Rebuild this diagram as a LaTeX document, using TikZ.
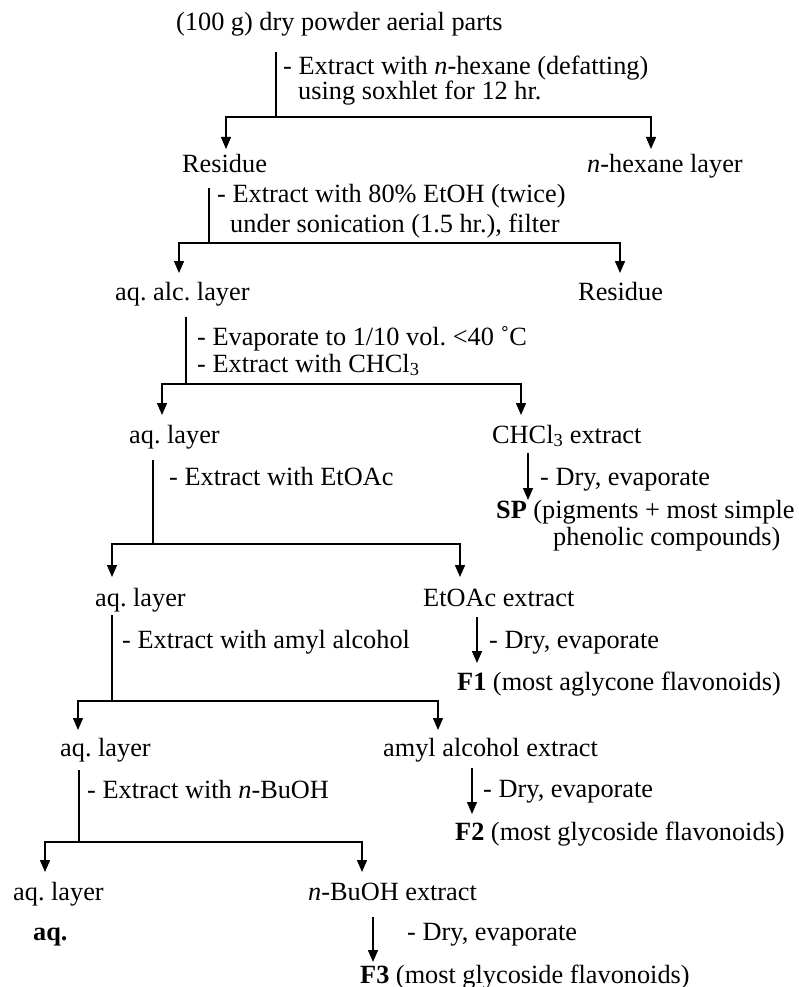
\documentclass[tikz,border=0pt]{standalone}
\usepackage{fontspec}
\setmainfont{Liberation Serif}
\usetikzlibrary{arrows.meta}
\frenchspacing

\begin{document}
\begin{tikzpicture}[x=1pt,y=-1pt,font=\fontsize{26.3}{30}\selectfont,
    draw/.append style={line width=1.4pt,black},
    txt/.style={anchor=base west,inner sep=0pt},
    arr/.style={-{Triangle[length=12pt,width=10pt]}}]
  \useasboundingbox (0,0) rectangle (798,987);
  % texts
  \node[txt] (plant) at (176,31) {(100 g) dry powder aerial parts};
  \node[txt] (hexA) at (283,75) {- Extract with \textit{n}-hexane (defatting)};
  \node[txt] (hexB) at (298,100) {using soxhlet for 12 hr.};
  \node[txt] (res1) at (182,173) {Residue};
  \node[txt] (hexl) at (587,173) {\textit{n}-hexane layer};
  \node[txt] (etA) at (217,203) {- Extract with 80\% EtOH (twice)};
  \node[txt] (etB) at (230,232) {under sonication (1.5 hr.), filter};
  \node[txt] (alc) at (115,300) {aq. alc. layer};
  \node[txt] (res2) at (578,300) {Residue};
  \node[txt] (evA) at (197,345) {- Evaporate to 1/10 vol. <40 ˚C};
  \node[txt] (evB) at (197,372) {- Extract with CHCl\textsubscript{3}};
  \node[txt] (aq1) at (129,443) {aq. layer};
  \node[txt] (chcl) at (492,443) {CHCl\textsubscript{3} extract};
  \node[txt] (dry1) at (540,485) {- Dry, evaporate};
  \node[txt] (spA) at (496,518) {\textbf{SP} (pigments + most simple};
  \node[txt] (spB) at (553,545) {phenolic compounds)};
  \node[txt] (eaA) at (169,485) {- Extract with EtOAc};
  \node[txt] (aq2) at (95,606) {aq. layer};
  \node[txt] (etoac) at (423,606) {EtOAc extract};
  \node[txt] (dry2) at (489,648) {- Dry, evaporate};
  \node[txt] (fr1) at (457,690) {\textbf{F1} (most aglycone flavonoids)};
  \node[txt] (amA) at (122,648) {- Extract with amyl alcohol};
  \node[txt] (aq3) at (60,756) {aq. layer};
  \node[txt] (amyl) at (383,756) {amyl alcohol extract};
  \node[txt] (dry3) at (483,797) {- Dry, evaporate};
  \node[txt] (fr2) at (455,840) {\textbf{F2} (most glycoside flavonoids)};
  \node[txt] (buA) at (87,798) {- Extract with \textit{n}-BuOH};
  \node[txt] (aq4) at (13,900) {aq. layer};
  \node[txt] (buoh) at (308,900) {\textit{n}-BuOH extract};
  \node[txt] (aqf) at (33,940) {\textbf{aq.}};
  \node[txt] (dry4) at (407,940) {- Dry, evaporate};
  \node[txt] (fr3) at (360,983) {\textbf{F3} (most glycoside flavonoids)};
  % branch points
  \coordinate (v1) at (276,52);  \coordinate (s1) at (276,117);
  \coordinate (a1) at (226,149); \coordinate (b1) at (651,149);
  \coordinate (v2) at (209,188); \coordinate (s2) at (209,243);
  \coordinate (a2) at (179,273); \coordinate (b2) at (620,273);
  \coordinate (v3) at (186,317); \coordinate (s3) at (186,384);
  \coordinate (a3) at (162,415); \coordinate (b3) at (521,415);
  \coordinate (v4) at (153,460); \coordinate (s4) at (153,544);
  \coordinate (a4) at (112,577); \coordinate (b4) at (460,577);
  \coordinate (v5) at (112,615); \coordinate (s5) at (112,701);
  \coordinate (a5) at (78,730);  \coordinate (b5) at (438,730);
  \coordinate (v6) at (79,770);  \coordinate (s6) at (79,842);
  \coordinate (a6) at (45,872);  \coordinate (b6) at (362,872);
  \coordinate (d3) at (528,453); \coordinate (e3) at (528,500);
  \coordinate (d4) at (477,617); \coordinate (e4) at (477,663);
  \coordinate (d5) at (472,768); \coordinate (e5) at (472,814);
  \coordinate (d6) at (373,917); \coordinate (e6) at (373,962);
  % connectors
  \draw (v1)--(s1); \draw[arr] (s1)-|(a1); \draw[arr] (s1)-|(b1);
  \draw (v2)--(s2); \draw[arr] (s2)-|(a2); \draw[arr] (s2)-|(b2);
  \draw (v3)--(s3); \draw[arr] (s3)-|(a3); \draw[arr] (s3)-|(b3);
  \draw (v4)--(s4); \draw[arr] (s4)-|(a4); \draw[arr] (s4)-|(b4);
  \draw (v5)--(s5); \draw[arr] (s5)-|(a5); \draw[arr] (s5)-|(b5);
  \draw (v6)--(s6); \draw[arr] (s6)-|(a6); \draw[arr] (s6)-|(b6);
  \draw[arr] (d3)--(e3);
  \draw[arr] (d4)--(e4);
  \draw[arr] (d5)--(e5);
  \draw[arr] (d6)--(e6);
\end{tikzpicture}
\end{document}
